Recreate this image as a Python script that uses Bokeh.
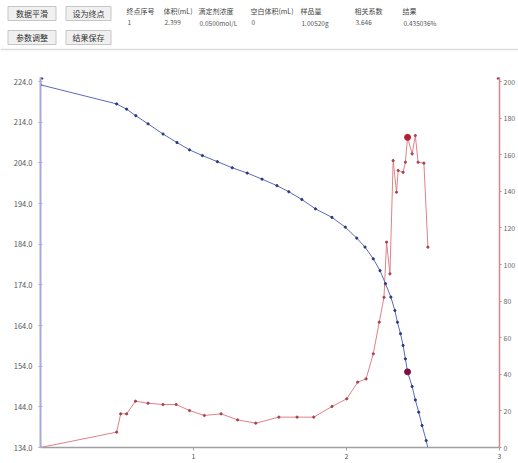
from bokeh.plotting import figure
from bokeh.models import Range1d, LinearAxis, FixedTicker, PrintfTickFormatter, Label
from bokeh.layouts import column
from bokeh.embed import file_html
from bokeh.resources import INLINE
from bokeh.core.properties import value

FONT = "Noto Sans CJK SC"

# ---- data ----
buttons = ["数据平滑", "设为终点", "参数调整", "结果保存"]
table_headers = ["终点序号", "体积(mL)", "滴定剂浓度", "空白体积(mL)", "样品量", "相关系数", "结果"]
table_values = ["1", "2.399", "0.0500mol/L", "0", "1.00520g", "3.646", "0.435036%"]

volume_mv = [0.000, 0.498, 0.563, 0.623, 0.703, 0.801, 0.892, 0.974, 1.058, 1.156,
             1.253, 1.351, 1.448, 1.545, 1.623, 1.708, 1.797, 1.905, 1.992, 2.067,
             2.121, 2.175, 2.219, 2.255, 2.290, 2.316, 2.333, 2.353, 2.370, 2.385,
             2.399, 2.429, 2.450, 2.472, 2.494, 2.521, 2.532]
mv = [223.2, 218.5, 217.2, 215.6, 213.6, 211.1, 209.0, 207.2, 205.8, 204.3,
      202.8, 201.5, 200.0, 198.4, 196.9, 195.0, 192.7, 190.6, 188.2, 185.5,
      183.3, 180.4, 177.5, 174.3, 171.0, 167.7, 164.8, 162.0, 159.1, 155.8,
      152.6, 149.0, 145.7, 142.7, 139.4, 135.7, 133.8]

volume_d = [0.000, 0.498, 0.524, 0.563, 0.621, 0.703, 0.801, 0.887, 0.974, 1.071,
            1.180, 1.288, 1.407, 1.558, 1.677, 1.786, 1.905, 2.002, 2.073, 2.128,
            2.175, 2.214, 2.245, 2.262, 2.284, 2.305, 2.327, 2.338, 2.370, 2.385,
            2.399, 2.429, 2.450, 2.468, 2.506, 2.532]
deriv = [0.0, 8.4, 18.4, 18.4, 25.3, 24.2, 23.5, 23.5, 20.2, 17.5,
         18.4, 15.1, 13.3, 16.6, 16.6, 16.6, 22.4, 26.6, 35.7, 37.5,
         51.2, 68.5, 82.1, 112.2, 94.9, 156.8, 139.5, 151.4, 150.4, 155.9,
         169.5, 160.5, 170.5, 155.9, 155.4, 109.5]

end_volume = [2.399]
end_mv = [152.6]
end_deriv = [169.5]

left_ticks = [134, 144, 154, 164, 174, 184, 194, 204, 214, 224]
right_ticks = [0, 20, 40, 60, 80, 100, 120, 140, 160, 180, 200]
x_ticks = [1, 2, 3]

W = 518
HEAD_H = 52
MAIN_H = 411

# ---- header panel ----
h = figure(width=W, height=HEAD_H, x_range=Range1d(0, W), y_range=Range1d(HEAD_H, 0),
           output_backend="svg", toolbar_location=None, min_border=0,
           x_axis_location=None, y_axis_location=None)
h.frame_align = False
h.grid.visible = False
h.outline_line_color = None
h.background_fill_color = "#ffffff"

btn_x = [31.5, 88.0, 31.5, 88.0]
btn_y = [13.0, 13.0, 37.0, 37.0]
h.rect(x=btn_x, y=btn_y, width=[48, 45, 48, 45], height=14,
       fill_color="#f0f0f0", line_color="#c6c6c6", line_width=1)
h.text(x=btn_x, y=btn_y, text=buttons, text_align="center", text_baseline="middle",
       text_font=value(FONT), text_font_size="8px", text_color="#333333")

col_x = [126, 163, 198, 250, 300, 354, 402]
h.text(x=col_x, y=[10] * 7, text=table_headers, text_align="left", text_baseline="middle",
       text_font=value(FONT), text_font_size="7px", text_color="#444444")
h.text(x=[c + 1 for c in col_x], y=[22] * 7, text=table_values, text_align="left",
       text_baseline="middle", text_font=value(FONT), text_font_size="6.5px",
       text_color="#555555")
h.segment(x0=[0], y0=[49], x1=[W], y1=[49], line_color="#dcdcdc", line_width=1.5)

# ---- main chart ----
p = figure(width=W, height=MAIN_H, x_range=Range1d(0, 3), y_range=Range1d(134, 225),
           output_backend="svg", toolbar_location=None,
           min_border_left=40, min_border_right=15, min_border_top=25, min_border_bottom=16,
           y_axis_location=None, x_axis_location=None)
p.frame_align = False
p.grid.visible = False
p.outline_line_color = None
p.background_fill_color = "#ffffff"
p.extra_y_ranges = {"d": Range1d(0, 202.22)}

xaxis = LinearAxis(ticker=FixedTicker(ticks=x_ticks))
xaxis.axis_line_color = "#a0a0a0"
xaxis.axis_line_width = 1.5
xaxis.major_tick_line_color = "#a0a0a0"
xaxis.major_tick_out = 3
xaxis.major_tick_in = 0
xaxis.minor_tick_line_color = None
xaxis.major_label_standoff = 2
xaxis.major_label_text_font = FONT
xaxis.major_label_text_font_size = "7px"
xaxis.major_label_text_color = "#555555"
p.add_layout(xaxis, "below")

yaxis = LinearAxis(ticker=FixedTicker(ticks=left_ticks),
                   formatter=PrintfTickFormatter(format="%.1f"))
yaxis.axis_line_color = "#a9a9dc"
yaxis.axis_line_width = 2
yaxis.major_tick_line_color = "#a9a9dc"
yaxis.major_tick_out = 2
yaxis.major_tick_in = 2
yaxis.minor_tick_line_color = None
yaxis.major_label_standoff = 6
yaxis.major_label_text_font = FONT
yaxis.major_label_text_font_size = "7.5px"
yaxis.major_label_text_color = "#555555"
p.add_layout(yaxis, "left")

raxis = LinearAxis(y_range_name="d", ticker=FixedTicker(ticks=right_ticks))
raxis.axis_line_color = "#c98a94"
raxis.axis_line_width = 1.5
raxis.major_tick_line_color = "#c98a94"
raxis.major_tick_out = 2
raxis.major_tick_in = 0
raxis.minor_tick_line_color = None
raxis.major_label_standoff = 2
raxis.major_label_text_font = FONT
raxis.major_label_text_font_size = "7px"
raxis.major_label_text_color = "#666666"
p.add_layout(raxis, "right")

# derivative curve (right axis)
p.line(volume_d, deriv, y_range_name="d", line_color="#e08088", line_width=1)
p.scatter(volume_d, deriv, y_range_name="d", size=2.2, color="#a8404e")

# potential curve (left axis)
p.line(volume_mv, mv, line_color="#5a6ab8", line_width=1)
p.scatter(volume_mv, mv, size=2.2, color="#2c3680")

# end point markers
p.scatter(end_volume, end_mv, size=6, color="#7c1242")
p.scatter(end_volume, end_deriv, y_range_name="d", size=6, color="#b81c36")

# axis arrow heads
p.scatter([0], [225], marker="triangle", size=5, color="#1e2870")
p.scatter([3], [202.22], y_range_name="d", marker="triangle", size=5, color="#a0203a")

p.add_layout(Label(x=0, y=225, text="mv", x_offset=-4, y_offset=4, text_align="center",
                   text_font=FONT, text_font_size="6px", text_color="#555555"))
p.add_layout(Label(x=3, y=134, text="mL", x_offset=9, y_offset=-13, text_align="left",
                   text_font=FONT, text_font_size="6px", text_color="#555555"))

layout = column(h, p, spacing=0)
open("out.html", "w").write(file_html(layout, INLINE))
